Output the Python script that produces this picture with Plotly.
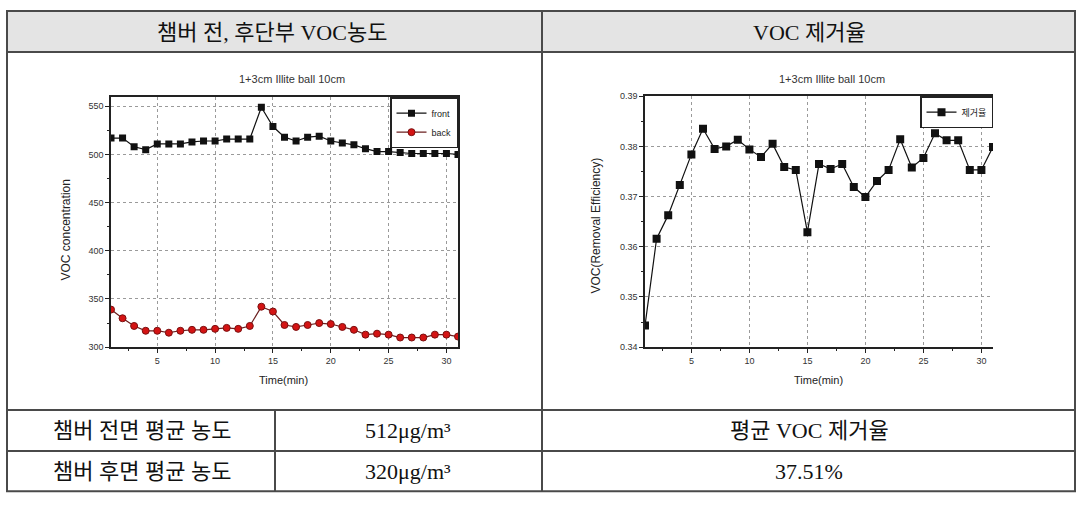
import plotly.graph_objects as go

# ---------------- data ----------------
time_min = list(range(1, 32))
front = [517, 517, 508, 505, 511, 511, 511, 513, 514, 514, 516, 516, 516, 549, 529, 518,
         514, 518, 519, 514, 512, 510, 506, 503, 503, 502, 501, 501, 501, 501, 500]
back = [339, 330, 322, 317, 317, 315, 317, 318, 318, 319, 320, 319, 322, 342, 337, 323,
        321, 323, 325, 324, 321, 318, 313, 314, 313, 310, 310, 310, 313, 313, 311]
removal = [0.3443, 0.3616, 0.3663, 0.3723, 0.3784, 0.3835, 0.3795, 0.3800, 0.3813, 0.3794,
           0.3779, 0.3805, 0.3759, 0.3753, 0.3629, 0.3765, 0.3755, 0.3765, 0.3719, 0.3699,
           0.3731, 0.3753, 0.3814, 0.3758, 0.3777, 0.3826, 0.3812, 0.3812, 0.3753, 0.3753, 0.3799]

chart_title = "1+3cm Illite ball 10cm"
header_left = "챔버 전, 후단부 VOC농도"
header_right = "VOC 제거율"
row_labels = ["챔버 전면 평균 농도", "챔버 후면 평균 농도"]
row_values = ["512μg/m³", "320μg/m³"]
right_cells = ["평균 VOC 제거율", "37.51%"]

# ---------------- layout helpers ----------------
W, H = 1087, 510
def px(x):
    return x / W
def py(y):
    return 1 - y / H

fig = go.Figure()

fig.add_trace(go.Scatter(
    x=time_min, y=front, mode="lines+markers", name="front",
    line=dict(color="#111111", width=1.2),
    marker=dict(symbol="square", size=7, color="#111111"),
    xaxis="x", yaxis="y", legend="legend"))
fig.add_trace(go.Scatter(
    x=time_min, y=back, mode="lines+markers", name="back",
    line=dict(color="#6b1f1f", width=1.2),
    marker=dict(symbol="circle", size=7, color="#d41414", line=dict(color="#7a1010", width=1)),
    xaxis="x", yaxis="y", legend="legend"))
fig.add_trace(go.Scatter(
    x=time_min, y=removal, mode="lines+markers", name="제거율",
    line=dict(color="#111111", width=1.2),
    marker=dict(symbol="square", size=8, color="#111111"),
    xaxis="x2", yaxis="y2", legend="legend2"))

tickfont = dict(family="Liberation Sans, Arial", size=9, color="#333333")

def axis_common(**kw):
    d = dict(showline=True, linecolor="#222222", linewidth=1.5, mirror=True,
             ticks="outside", ticklen=4, tickcolor="#222222", tickwidth=1,
             showgrid=True, gridcolor="#9a9a9a", griddash="dot", gridwidth=1,
             zeroline=False, tickfont=tickfont)
    d.update(kw)
    return d

xcommon = dict(range=[1, 31], tick0=0, dtick=5,
               minor=dict(ticks="outside", ticklen=2, tickcolor="#222222", tick0=0, dtick=2.5, showgrid=False))

fig.update_layout(
    width=W, height=H, margin=dict(l=0, r=0, t=0, b=0),
    paper_bgcolor="white", plot_bgcolor="white",
    xaxis=axis_common(domain=[px(111), px(458)], anchor="y", **xcommon),
    yaxis=axis_common(domain=[py(349), py(94)], anchor="x", range=[300, 559.5], tick0=300, dtick=50,
                      minor=dict(ticks="outside", ticklen=2, tickcolor="#222222", tick0=300, dtick=25, showgrid=False)),
    xaxis2=axis_common(domain=[px(645), px(993)], anchor="y2", **xcommon),
    yaxis2=axis_common(domain=[py(349), py(93)], anchor="x2", range=[0.34, 0.39], tick0=0.34, dtick=0.01,
                       mirror=False, tickformat=".2f",
                       minor=dict(ticks="outside", ticklen=2, tickcolor="#222222", tick0=0.34, dtick=0.005, showgrid=False)),
    legend=dict(x=px(458), xanchor="right", y=py(94), yanchor="top",
                bgcolor="white", bordercolor="#222222", borderwidth=1.5,
                font=dict(family="Liberation Sans, Arial", size=9, color="#222222"),
                itemwidth=30, tracegroupgap=0),
    legend2=dict(x=px(993), xanchor="right", y=py(93), yanchor="top",
                 bgcolor="white", bordercolor="#222222", borderwidth=1.5,
                 font=dict(family="Noto Sans CJK KR", size=9, color="#222222"),
                 itemwidth=30),
    showlegend=True,
)

# ---------------- table frame ----------------
line_col = "#4a4a4a"
shapes = [
    dict(type="rect", xref="paper", yref="paper", x0=px(7), x1=px(1075), y0=py(48), y1=py(6),
         fillcolor="#e4e4e4", line=dict(width=0), layer="below"),
    dict(type="rect", xref="paper", yref="paper", x0=px(7), x1=px(1075), y0=py(496), y1=py(6),
         line=dict(color=line_col, width=2)),
    dict(type="line", xref="paper", yref="paper", x0=px(7), x1=px(1075), y0=py(48), y1=py(48),
         line=dict(color=line_col, width=2)),
    dict(type="line", xref="paper", yref="paper", x0=px(7), x1=px(1075), y0=py(413), y1=py(413),
         line=dict(color=line_col, width=2)),
    dict(type="line", xref="paper", yref="paper", x0=px(7), x1=px(1075), y0=py(455), y1=py(455),
         line=dict(color=line_col, width=2)),
    dict(type="line", xref="paper", yref="paper", x0=px(542), x1=px(542), y0=py(6), y1=py(496),
         line=dict(color=line_col, width=2)),
    dict(type="line", xref="paper", yref="paper", x0=px(275), x1=px(275), y0=py(413), y1=py(496),
         line=dict(color=line_col, width=2)),
]
fig.update_layout(shapes=shapes)

cell_font = dict(family="Liberation Serif, Noto Sans CJK KR", size=22, color="#111111")
small_font = dict(family="Liberation Sans, Arial", size=11, color="#333333")
axis_font = dict(family="Liberation Sans, Arial", size=12, color="#222222")
time_font = dict(family="Liberation Sans, Arial", size=11, color="#222222")

def ann(x, y, text, font, angle=0):
    return dict(x=px(x), y=py(y), xref="paper", yref="paper", text=text, showarrow=False,
                xanchor="center", yanchor="middle", font=font, textangle=angle)

annotations = [
    ann(272, 28, header_left, cell_font),
    ann(809, 28, header_right, cell_font),
    ann(142, 434, row_labels[0], cell_font),
    ann(142, 476, row_labels[1], cell_font),
    ann(408, 434, row_values[0], cell_font),
    ann(408, 476, row_values[1], cell_font),
    ann(809, 434, right_cells[0], cell_font),
    ann(809, 476, right_cells[1], cell_font),
    ann(292, 75, chart_title, small_font),
    ann(832, 75, chart_title, small_font),
    ann(283, 382, "Time(min)", time_font),
    ann(818, 382, "Time(min)", time_font),
    ann(66, 230, "VOC concentration", axis_font, -90),
    ann(596, 225, "VOC(Removal Efficiency)", axis_font, -90),
]
fig.update_layout(annotations=annotations)

fig.write_html("out.html", config={"displayModeBar": False},
               post_script="document.body.style.margin='0px';document.body.style.overflow='hidden';")
